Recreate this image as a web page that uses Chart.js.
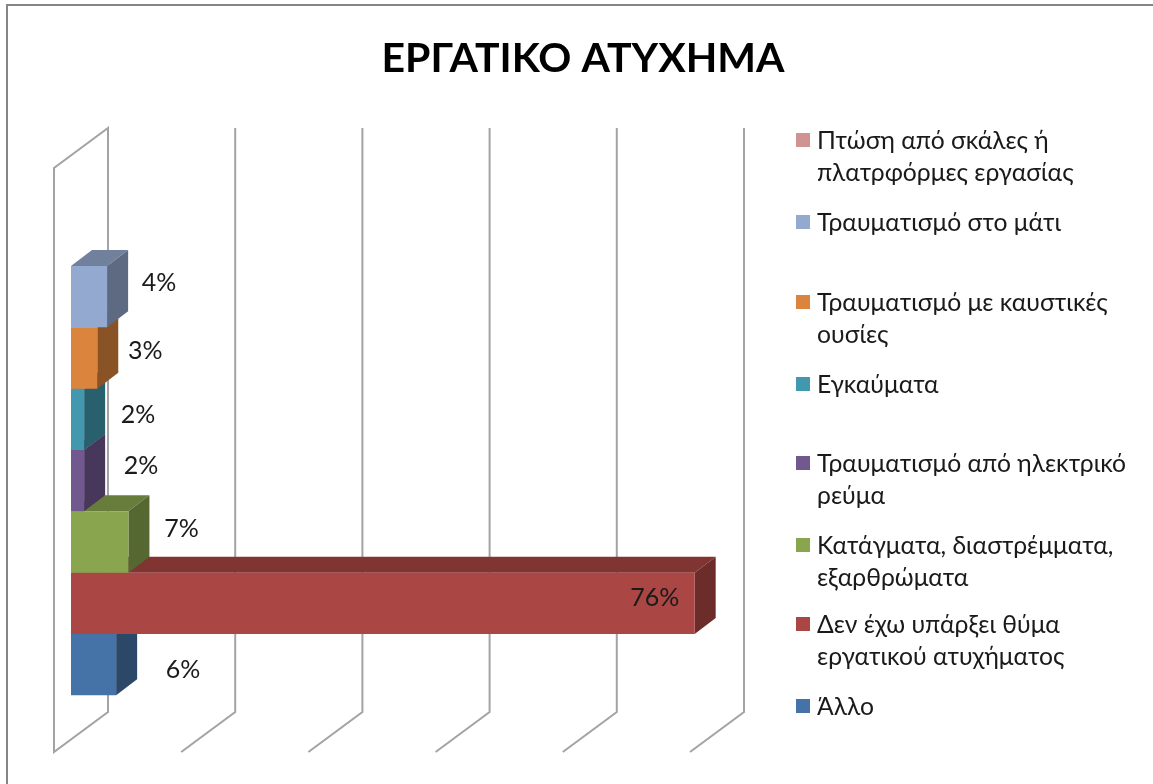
<!DOCTYPE html>
<html>
<head>
<meta charset="utf-8">
<style>
html,body{margin:0;padding:0;background:#fff;width:1153px;height:784px;overflow:hidden}
#wrap{position:absolute;left:0;top:0;width:1153px;height:784px;filter:blur(0.45px)}
#frame{position:absolute;left:6px;top:4px;right:-10px;bottom:-10px;border-left:2px solid #868686;border-top:2px solid #868686;pointer-events:none}
</style>
</head>
<body>
<div id="wrap"><canvas id="c" width="1153" height="784"></canvas><div id="frame"></div></div>
<script src="https://cdn.jsdelivr.net/npm/chart.js@4"></script>
<script>
const chartTitle = 'ΕΡΓΑΤΙΚΟ ΑΤΥΧΗΜΑ';
const categories = [''];
const seriesLines = [
  ['Πτώση από σκάλες ή', 'πλατρφόρμες εργασίας'],
  ['Τραυματισμό στο μάτι'],
  ['Τραυματισμό με καυστικές', 'ουσίες'],
  ['Εγκαύματα'],
  ['Τραυματισμό από ηλεκτρικό', 'ρεύμα'],
  ['Κατάγματα, διαστρέμματα,', 'εξαρθρώματα'],
  ['Δεν έχω υπάρξει θύμα', 'εργατικού ατυχήματος'],
  ['Άλλο']
];
const seriesValues = [0, 4.4, 3.2, 1.6, 1.6, 7, 76, 5.5];
const seriesColors = ['#D19392', '#93A9CF', '#DB843D', '#4198AF', '#71588F', '#89A54E', '#AA4643', '#4572A7'];

const FONT = 'Lato, "Open Sans", "Noto Sans", sans-serif';
const gridStep = 15.5, gridCount = 5;
const depth = {wallX: 54, wallY: 40, frontX: 17, frontY: 10, barX: 21, barY: 16};
const legendCenters = [141, 223, 303, 385, 464, 546, 625, 707];
const labelOffsets = [[0,0],[52,-14],[48,-7],[54,-4],[57,-15],[53,-13],[-40,-5],[67,5]];

function shade(hex, f){
  const n = parseInt(hex.slice(1), 16);
  return 'rgb(' + [n >> 16 & 255, n >> 8 & 255, n & 255].map(v => Math.round(v * f)).join(',') + ')';
}
function poly(ctx, pts, fill){
  ctx.beginPath();
  pts.forEach((p, i) => i ? ctx.lineTo(p[0], p[1]) : ctx.moveTo(p[0], p[1]));
  ctx.closePath();
  ctx.fillStyle = fill;
  ctx.fill();
}

const bar3d = {
  id: 'bar3d',
  afterLayout(chart){
    chart.titleBlock.left = 0;
    chart.titleBlock.right = 1166;
  },
  beforeDatasetsDraw(chart){
    const {ctx, scales:{x, y}} = chart;
    const top = y.top + depth.frontY, bottom = y.bottom + depth.frontY;
    ctx.save();
    ctx.strokeStyle = '#A3A3A3';
    ctx.lineWidth = 2;
    ctx.lineJoin = 'miter';
    for (let k = 0; k <= gridCount; k++){
      const fx = x.getPixelForValue(k * gridStep) - depth.frontX;
      const bx = fx + depth.wallX;
      ctx.beginPath();
      if (k === 0){
        ctx.moveTo(fx, top);
        ctx.lineTo(fx, bottom);
        ctx.lineTo(bx, bottom - depth.wallY);
        ctx.lineTo(bx, top - depth.wallY);
        ctx.closePath();
      } else {
        ctx.moveTo(bx, top - depth.wallY);
        ctx.lineTo(bx, bottom - depth.wallY);
        ctx.lineTo(fx, bottom);
      }
      ctx.stroke();
    }
    ctx.restore();
  },
  beforeDatasetDraw(chart, args){
    const i = args.index;
    if (!seriesValues[i]) return;
    const {ctx} = chart;
    const el = chart.getDatasetMeta(i).data[0];
    const x0 = el.base, x1 = el.x, t = el.y - el.height / 2, b = el.y + el.height / 2;
    const dx = depth.barX, dy = depth.barY, col = seriesColors[i];
    ctx.save();
    poly(ctx, [[x0,t],[x1,t],[x1+dx,t-dy],[x0+dx,t-dy]], shade(col, 0.76));
    poly(ctx, [[x1,t],[x1+dx,t-dy],[x1+dx,b-dy],[x1,b]], shade(col, 0.63));
    ctx.restore();
  },
  afterDatasetsDraw(chart){
    const {ctx} = chart;
    ctx.save();
    ctx.font = '25px ' + FONT;
    ctx.fillStyle = '#1a1a1a';
    ctx.textBaseline = 'middle';
    ctx.textAlign = 'center';
    seriesValues.forEach((v, i) => {
      if (!v) return;
      const el = chart.getDatasetMeta(i).data[0];
      ctx.fillText(Math.round(v) + '%', el.x + labelOffsets[i][0], el.y + labelOffsets[i][1]);
    });
    ctx.textAlign = 'left';
    ctx.font = '24.7px ' + FONT;
    seriesLines.forEach((lines, i) => {
      const cy = legendCenters[i];
      ctx.fillStyle = seriesColors[i];
      ctx.fillRect(796, cy - 8, 14, 14);
      ctx.fillStyle = '#1a1a1a';
      lines.forEach((s, j) => ctx.fillText(s, 817, cy + j * 32));
    });
    ctx.restore();
  }
};

new Chart(document.getElementById('c'), {
  type: 'bar',
  data: {
    labels: categories,
    datasets: seriesLines.map((lines, i) => ({
      label: lines.join(' '),
      data: [seriesValues[i]],
      backgroundColor: seriesColors[i],
      borderWidth: 0,
      categoryPercentage: 0.84,
      barPercentage: 1
    }))
  },
  options: {
    indexAxis: 'y',
    responsive: false,
    animation: false,
    layout: {padding: {left: 71, right: 446, top: 5, bottom: 42}},
    scales: {
      x: {display: false, min: 0, max: gridStep * gridCount},
      y: {display: false}
    },
    plugins: {
      legend: {display: false},
      tooltip: {enabled: false},
      title: {
        display: true,
        text: chartTitle,
        color: '#000',
        font: {family: FONT, size: 41, weight: 'bold', lineHeight: 1.2},
        padding: {top: 29, bottom: 74.8}
      }
    }
  },
  plugins: [bar3d]
});
</script>
</body>
</html>
